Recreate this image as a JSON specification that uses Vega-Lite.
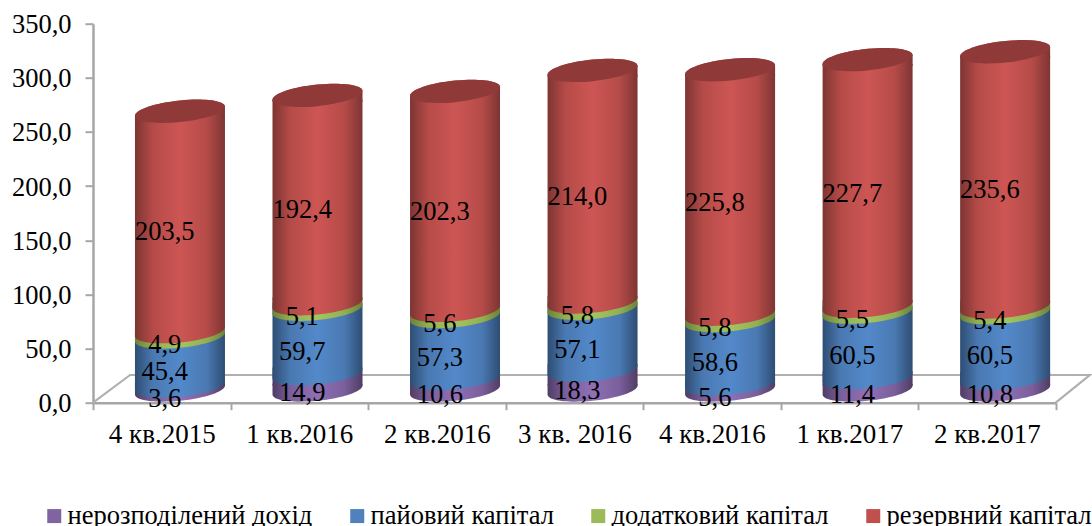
{
"$schema":"https://vega.github.io/schema/vega-lite/v6.json",
"width":962.7,"height":379,
"autosize":{"type":"none"},
"padding":{"left":93,"top":23.7,"right":36.3,"bottom":123.3},
"background":"#ffffff",
"config":{"view":{"stroke":null},"font":"Liberation Serif","text":{"font":"Liberation Serif"}},
"datasets":{
"main":[
{"cat":"4 кв.2015","series":"нерозподілений дохід","ord":1,"v":3.6},
{"cat":"4 кв.2015","series":"пайовий капітал","ord":2,"v":45.4},
{"cat":"4 кв.2015","series":"додатковий капітал","ord":3,"v":4.9},
{"cat":"4 кв.2015","series":"резервний капітал","ord":4,"v":203.5},
{"cat":"1 кв.2016","series":"нерозподілений дохід","ord":1,"v":14.9},
{"cat":"1 кв.2016","series":"пайовий капітал","ord":2,"v":59.7},
{"cat":"1 кв.2016","series":"додатковий капітал","ord":3,"v":5.1},
{"cat":"1 кв.2016","series":"резервний капітал","ord":4,"v":192.4},
{"cat":"2 кв.2016","series":"нерозподілений дохід","ord":1,"v":10.6},
{"cat":"2 кв.2016","series":"пайовий капітал","ord":2,"v":57.3},
{"cat":"2 кв.2016","series":"додатковий капітал","ord":3,"v":5.6},
{"cat":"2 кв.2016","series":"резервний капітал","ord":4,"v":202.3},
{"cat":"3 кв. 2016","series":"нерозподілений дохід","ord":1,"v":18.3},
{"cat":"3 кв. 2016","series":"пайовий капітал","ord":2,"v":57.1},
{"cat":"3 кв. 2016","series":"додатковий капітал","ord":3,"v":5.8},
{"cat":"3 кв. 2016","series":"резервний капітал","ord":4,"v":214.0},
{"cat":"4 кв.2016","series":"нерозподілений дохід","ord":1,"v":5.6},
{"cat":"4 кв.2016","series":"пайовий капітал","ord":2,"v":58.6},
{"cat":"4 кв.2016","series":"додатковий капітал","ord":3,"v":5.8},
{"cat":"4 кв.2016","series":"резервний капітал","ord":4,"v":225.8},
{"cat":"1 кв.2017","series":"нерозподілений дохід","ord":1,"v":11.4},
{"cat":"1 кв.2017","series":"пайовий капітал","ord":2,"v":60.5},
{"cat":"1 кв.2017","series":"додатковий капітал","ord":3,"v":5.5},
{"cat":"1 кв.2017","series":"резервний капітал","ord":4,"v":227.7},
{"cat":"2 кв.2017","series":"нерозподілений дохід","ord":1,"v":10.8},
{"cat":"2 кв.2017","series":"пайовий капітал","ord":2,"v":60.5},
{"cat":"2 кв.2017","series":"додатковий капітал","ord":3,"v":5.4},
{"cat":"2 кв.2017","series":"резервний капітал","ord":4,"v":235.6}
],
"floor":[
{"n":1,"fx":0,"fy":0},
{"n":2,"fx":0.27,"fy":25.6},
{"n":3,"fx":7.25,"fy":25.6},
{"n":4,"fx":7,"fy":0}
]},
"resolve":{"scale":{"x":"independent"}},
"layer":[
{"data":{"name":"floor"},
 "mark":{"type":"line","stroke":"#B0B0B0","strokeWidth":2.2,"clip":false},
 "encoding":{
  "x":{"field":"fx","type":"quantitative","scale":{"domain":[0,7],"nice":false,"zero":false},"axis":null},
  "y":{"field":"fy","type":"quantitative","title":null,"scale":{"domain":[0,350],"nice":false},
   "axis":{"values":[0,50,100,150,200,250,300,350],"labelExpr":"replace(format(datum.value,'.1f'),'.',',')","grid":false,"labelFont":"Liberation Serif","labelFontSize":26.5,"labelColor":"#000000","labelPadding":14,"tickSize":8,"tickColor":"#A6A6A6","tickWidth":2,"domainColor":"#A6A6A6","domainWidth":2.5,"labelOffset":1}},
  "order":{"field":"n"}}},
{"data":{"name":"main"},
 "transform":[
  {"stack":"v","groupby":["cat"],"sort":[{"field":"ord","order":"ascending"}],"as":["y0","y1"]},
  {"calculate":"(datum.y0+datum.y1)/2","as":"mid"},
  {"calculate":"replace(format(datum.v,'.1f'),'.',',')","as":"label"}],
 "encoding":{
  "x":{"field":"cat","type":"nominal","title":null,
   "sort":["4 кв.2015","1 кв.2016","2 кв.2016","3 кв. 2016","4 кв.2016","1 кв.2017","2 кв.2017"],
   "scale":{"paddingInner":0,"paddingOuter":0},
   "axis":{"tickBand":"extent","labelAngle":0,"labelFont":"Liberation Serif","labelFontSize":27,"labelColor":"#000000","labelPadding":12,"tickSize":7,"tickColor":"#A6A6A6","tickWidth":2,"domainColor":"#A6A6A6","domainWidth":2.5,"labelBaseline":"top"}},
  "y":{"field":"y1","type":"quantitative","title":null,
   "scale":{"domain":[0,350],"nice":false},
   "axis":{"values":[0,50,100,150,200,250,300,350],"labelExpr":"replace(format(datum.value,'.1f'),'.',',')","grid":false,"labelFont":"Liberation Serif","labelFontSize":26.5,"labelColor":"#000000","labelPadding":14,"tickSize":8,"tickColor":"#A6A6A6","tickWidth":2,"domainColor":"#A6A6A6","domainWidth":2.5,"labelOffset":1}}},
 "layer":[
  {"mark":{"type":"bar","size":90,"xOffset":18.2,"yOffset":-17.2,"y2Offset":-17.2,"opacity":0},
   "encoding":{"y2":{"field":"y0"},
    "color":{"field":"series","type":"nominal","title":null,
     "scale":{"domain":["нерозподілений дохід","пайовий капітал","додатковий капітал","резервний капітал"],"range":["#8064A2","#4F81BD","#9BBB59","#C0504D"]},
     "legend":{"orient":"none","legendX":-52,"legendY":479,"direction":"horizontal","columns":4,"symbolType":"square","symbolSize":196,"symbolOpacity":1,"symbolStrokeWidth":0,"labelFont":"Liberation Serif","labelFontSize":26.5,"labelColor":"#000000","labelOffset":0,"columnPadding":31,"labelLimit":400,"title":null}}}},
  {"transform":[{"filter":"datum.ord==1"}],
   "mark":{"type":"bar","size":90,"xOffset":18.2,"yOffset":-17.2,"y2Offset":-17.2,
    "fill":{"gradient":"linear","x1":0,"x2":1,"y1":0,"y2":0,"stops":[{"offset":0,"color":"#4F3D65"},{"offset":0.2,"color":"#7A5F9B"},{"offset":0.5,"color":"#8F70B5"},{"offset":0.8,"color":"#7A5F9B"},{"offset":1,"color":"#4F3D65"}]}},
   "encoding":{"y2":{"field":"y0"}}},
  {"transform":[{"filter":"datum.ord==1"}],
   "mark":{"type":"point","filled":true,"opacity":1,"size":8100,"xOffset":18.2,"yOffset":-12.7,"stroke":null,
    "shape":"M1,-0.14 L1,-0.1 C1,0.0325 0.5523,0.1848 0,0.24 C-0.5523,0.2952 -1,0.2325 -1,0.1 L-1,-0.14 Z",
    "fill":{"gradient":"linear","x1":0,"x2":1,"y1":0,"y2":0,"stops":[{"offset":0,"color":"#4F3D65"},{"offset":0.2,"color":"#7A5F9B"},{"offset":0.5,"color":"#8F70B5"},{"offset":0.8,"color":"#7A5F9B"},{"offset":1,"color":"#4F3D65"}]}},
   "encoding":{"y":{"field":"y0","type":"quantitative"}}},
  {"transform":[{"filter":"datum.ord==2"}],
   "mark":{"type":"bar","size":90,"xOffset":18.2,"yOffset":-17.2,"y2Offset":-17.2,
    "fill":{"gradient":"linear","x1":0,"x2":1,"y1":0,"y2":0,"stops":[{"offset":0,"color":"#2E4D73"},{"offset":0.2,"color":"#4A79B2"},{"offset":0.5,"color":"#5389CA"},{"offset":0.8,"color":"#4A79B2"},{"offset":1,"color":"#2E4D73"}]}},
   "encoding":{"y2":{"field":"y0"}}},
  {"transform":[{"filter":"datum.ord==2"}],
   "mark":{"type":"point","filled":true,"opacity":1,"size":8100,"xOffset":18.2,"yOffset":-12.7,"stroke":null,
    "shape":"M1,-0.14 L1,-0.1 C1,0.0325 0.5523,0.1848 0,0.24 C-0.5523,0.2952 -1,0.2325 -1,0.1 L-1,-0.14 Z",
    "fill":{"gradient":"linear","x1":0,"x2":1,"y1":0,"y2":0,"stops":[{"offset":0,"color":"#2E4D73"},{"offset":0.2,"color":"#4A79B2"},{"offset":0.5,"color":"#5389CA"},{"offset":0.8,"color":"#4A79B2"},{"offset":1,"color":"#2E4D73"}]}},
   "encoding":{"y":{"field":"y0","type":"quantitative"}}},
  {"transform":[{"filter":"datum.ord==3"}],
   "mark":{"type":"bar","size":90,"xOffset":18.2,"yOffset":-17.2,"y2Offset":-17.2,
    "fill":{"gradient":"linear","x1":0,"x2":1,"y1":0,"y2":0,"stops":[{"offset":0,"color":"#6A8238"},{"offset":0.2,"color":"#92B053"},{"offset":0.5,"color":"#A3C55E"},{"offset":0.8,"color":"#92B053"},{"offset":1,"color":"#6A8238"}]}},
   "encoding":{"y2":{"field":"y0"}}},
  {"transform":[{"filter":"datum.ord==3"}],
   "mark":{"type":"point","filled":true,"opacity":1,"size":8100,"xOffset":18.2,"yOffset":-12.7,"stroke":null,
    "shape":"M1,-0.14 L1,-0.1 C1,0.0325 0.5523,0.1848 0,0.24 C-0.5523,0.2952 -1,0.2325 -1,0.1 L-1,-0.14 Z",
    "fill":{"gradient":"linear","x1":0,"x2":1,"y1":0,"y2":0,"stops":[{"offset":0,"color":"#6A8238"},{"offset":0.2,"color":"#92B053"},{"offset":0.5,"color":"#A3C55E"},{"offset":0.8,"color":"#92B053"},{"offset":1,"color":"#6A8238"}]}},
   "encoding":{"y":{"field":"y0","type":"quantitative"}}},
  {"transform":[{"filter":"datum.ord==4"}],
   "mark":{"type":"bar","size":90,"xOffset":18.2,"yOffset":-8.2,"y2Offset":-17.2,
    "fill":{"gradient":"linear","x1":0,"x2":1,"y1":0,"y2":0,"stops":[{"offset":0,"color":"#7D3533"},{"offset":0.2,"color":"#B54B48"},{"offset":0.5,"color":"#CD5654"},{"offset":0.8,"color":"#B54B48"},{"offset":1,"color":"#7D3533"}]}},
   "encoding":{"y2":{"field":"y0"}}},
  {"transform":[{"filter":"datum.ord==4"}],
   "mark":{"type":"point","filled":true,"opacity":1,"size":8100,"xOffset":18.2,"yOffset":-12.7,"stroke":null,
    "shape":"M1,-0.14 L1,-0.1 C1,0.0325 0.5523,0.1848 0,0.24 C-0.5523,0.2952 -1,0.2325 -1,0.1 L-1,-0.14 Z",
    "fill":{"gradient":"linear","x1":0,"x2":1,"y1":0,"y2":0,"stops":[{"offset":0,"color":"#7D3533"},{"offset":0.2,"color":"#B54B48"},{"offset":0.5,"color":"#CD5654"},{"offset":0.8,"color":"#B54B48"},{"offset":1,"color":"#7D3533"}]}},
   "encoding":{"y":{"field":"y0","type":"quantitative"}}},
  {"transform":[{"filter":"datum.ord==4"}],
   "mark":{"type":"point","filled":true,"opacity":1,"size":8100,"xOffset":18.2,"yOffset":-12.7,"stroke":null,
    "shape":"M-1,0.14 L-1,0.1 C-1,-0.0325 -0.5523,-0.1848 0,-0.24 C0.5523,-0.2952 1,-0.2325 1,-0.1 L1,0.14 Z",
    "fill":{"gradient":"linear","x1":0,"x2":1,"y1":0,"y2":0,"stops":[{"offset":0,"color":"#7D3533"},{"offset":0.2,"color":"#B54B48"},{"offset":0.5,"color":"#CD5654"},{"offset":0.8,"color":"#B54B48"},{"offset":1,"color":"#7D3533"}]}}},
  {"transform":[{"filter":"datum.ord==4"}],
   "mark":{"type":"point","filled":true,"opacity":1,"size":8100,"xOffset":18.2,"yOffset":-12.7,"stroke":null,"fill":"#8F3A38",
    "shape":"M1,-0.1 C1,0.0325 0.5523,0.1848 0,0.24 C-0.5523,0.2952 -1,0.2325 -1,0.1 C-1,-0.0325 -0.5523,-0.1848 0,-0.24 C0.5523,-0.2952 1,-0.2325 1,-0.1 Z"}},
  {"mark":{"type":"text","font":"Liberation Serif","fontSize":26.5,"color":"#000000","dx":3,"dy":-2,"baseline":"middle","align":"center"},
   "encoding":{"y":{"field":"mid","type":"quantitative"},"text":{"field":"label"}}}
 ]}
]}
